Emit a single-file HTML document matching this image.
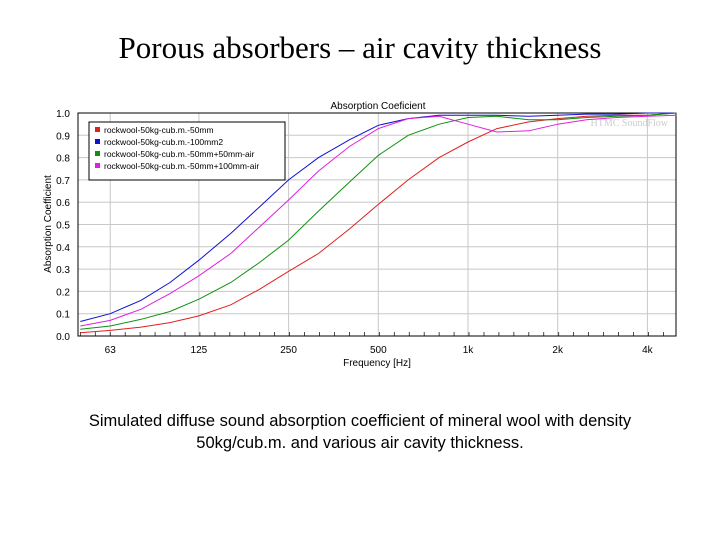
<!DOCTYPE html>
<html><head><meta charset="utf-8"><style>
body{margin:0;width:720px;height:540px;background:#fff;overflow:hidden;position:relative;font-family:"Liberation Sans",sans-serif}
#t{position:absolute;top:30px;left:0;width:720px;text-align:center;font-family:"Liberation Serif",serif;font-size:31px}
#cap{position:absolute;top:410px;left:0;width:720px;text-align:center;font-size:16.5px;line-height:22px}
</style></head><body>
<div id="t">Porous absorbers – air cavity thickness</div>
<svg id="c" width="720" height="540" style="position:absolute;left:0;top:0"></svg>
<div id="cap">Simulated diffuse sound absorption coefficient of mineral wool with density<br>50kg/cub.m. and various air cavity thickness.</div>
<script>
const freqs=[50,63,80,100,125,160,200,250,315,400,500,630,800,1000,1250,1600,2000,2500,3150,4000,5000];
const red=[0.015,0.025,0.04,0.06,0.09,0.14,0.21,0.29,0.37,0.48,0.59,0.70,0.80,0.87,0.93,0.96,0.975,0.985,0.99,0.99,1.0];
const blue=[0.065,0.10,0.16,0.24,0.34,0.46,0.58,0.70,0.80,0.88,0.945,0.975,0.99,0.99,0.99,0.985,0.99,0.995,0.995,1.0,1.0];
const green=[0.03,0.045,0.075,0.11,0.165,0.24,0.33,0.43,0.56,0.69,0.81,0.90,0.95,0.98,0.985,0.97,0.97,0.98,0.985,0.99,1.0];
const magenta=[0.045,0.07,0.12,0.19,0.27,0.37,0.49,0.61,0.74,0.85,0.93,0.975,0.985,0.95,0.915,0.92,0.95,0.97,0.98,0.985,0.99];
const xTicks=[63,125,250,500,1000,2000,4000];
const xLabels=["63","125","250","500","1k","2k","4k"];
const yTicks=[0,0.1,0.2,0.3,0.4,0.5,0.6,0.7,0.8,0.9,1.0];
const yLabels=["0.0","0.1","0.2","0.3","0.4","0.5","0.6","0.7","0.8","0.9","1.0"];
const seriesNames=["rockwool-50kg-cub.m.-50mm","rockwool-50kg-cub.m.-100mm2","rockwool-50kg-cub.m.-50mm+50mm-air","rockwool-50kg-cub.m.-50mm+100mm-air"];
const L=78,R=676,T=113,B=336;
const x=f=>468+89.7*Math.log2(f/1000);
const y=v=>B-(B-T)*v;
const s=document.getElementById('c');const NS="http://www.w3.org/2000/svg";
function mk(t,a,p){const e=document.createElementNS(NS,t);for(const k in a)e.setAttribute(k,a[k]);(p||s).appendChild(e);return e;}
yTicks.forEach((v,i)=>{
const g=mk('line',{x1:L,x2:R,y1:y(v),y2:y(v),stroke:'#c8c8c8','stroke-width':1});


const t=mk('text',{x:L-8,y:y(v)+4,'text-anchor':'end','font-size':10,fill:'#000'});t.textContent=yLabels[i];


});
xTicks.forEach((f,i)=>{
const g=mk('line',{x1:x(f),x2:x(f),y1:T,y2:B,stroke:'#c8c8c8','stroke-width':1});


const t=mk('text',{x:x(f),y:B+17,'text-anchor':'middle','font-size':10});t.textContent=xLabels[i];


});
for(let f=50;f<=5000;f*=Math.pow(2,1/6)){mk('line',{x1:x(f),x2:x(f),y1:B,y2:B-4,stroke:'#000','stroke-width':0.7});}
const fr=mk('rect',{x:L,y:T,width:R-L,height:B-T,fill:'none',stroke:'#000','stroke-width':1});


const wm=mk('text',{x:668,y:126,'text-anchor':'end','font-size':10,fill:'#ccc','font-family':'Liberation Serif'});wm.textContent='HTMC SoundFlow';


const ct=mk('text',{x:378,y:109,'text-anchor':'middle','font-size':10});ct.textContent='Absorption Coeficient';


const xt=mk('text',{x:377,y:366,'text-anchor':'middle','font-size':10});xt.textContent='Frequency [Hz]';


const yt=mk('text',{x:51,y:224,'text-anchor':'middle','font-size':10,transform:'rotate(-90 51 224)'});yt.textContent='Absorption Coefficient';


const series=[red,blue,green,magenta];const cols=['#e02020','#1010d0','#109010','#e020e0'];
series.forEach((d,i)=>{
const p=mk('polyline',{points:freqs.map((f,j)=>x(f).toFixed(1)+','+y(d[j]).toFixed(1)).join(' '),fill:'none',stroke:cols[i],'stroke-width':1});


});
const lg=mk('rect',{x:89,y:122,width:196,height:58,fill:'#fff',stroke:'#000','stroke-width':1});


seriesNames.forEach((n,i)=>{
mk('rect',{x:95,y:127+i*12,width:5,height:5,fill:cols[i]});
const t=mk('text',{x:104,y:133+i*12,'font-size':8.5});t.textContent=n;


});
</script>
</body></html>
